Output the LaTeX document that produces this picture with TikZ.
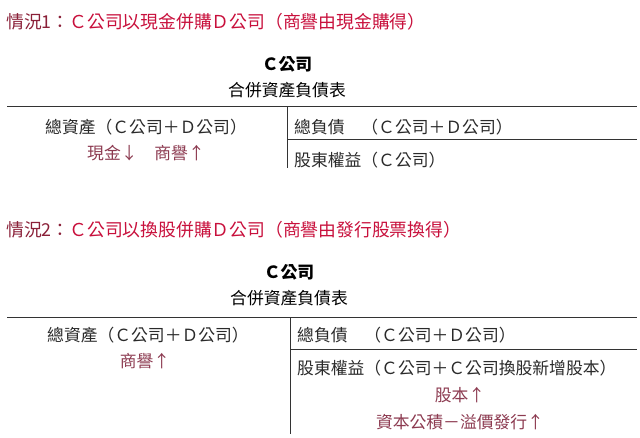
\documentclass[tikz,border=0pt]{standalone}
\usepackage{fontspec}
\setmainfont{Noto Sans CJK TC}
\definecolor{maroon}{HTML}{8A2038}
\definecolor{brightred}{HTML}{C8103C}
\definecolor{note}{HTML}{8C3A50}
\definecolor{txt}{HTML}{2A2A2A}
\begin{document}
\begin{tikzpicture}[x=1pt,y=-1pt,
  txtstyle/.style={font=\fontsize{16.8}{19}\selectfont,text=txt,inner sep=0pt},
  ttl/.style={font=\fontsize{17.8}{20}\selectfont,inner sep=0pt,anchor=west},
  hd/.style={font=\fontsize{16.8}{19}\selectfont,inner sep=0pt,text=black},
  rl/.style={line width=1pt,draw=black!80}]
\useasboundingbox (0,0) rectangle (640,438);
% section 1
\node[ttl] (t1) at (6,22) {\textcolor{maroon}{情況1：}\textcolor{brightred}{Ｃ公司以現金併購Ｄ公司（商譽由現金購得）}};
\node[hd,font=\fontsize{16.8}{19}\selectfont\bfseries] (c1) at (287,64) {Ｃ公司};
\node[hd] (b1) at (287,90) {合併資產負債表};
\coordinate (h1a) at (7,107); \coordinate (h1b) at (637,107);
\coordinate (v1a) at (287,107); \coordinate (v1b) at (287,168);
\coordinate (r1a) at (287,140); \coordinate (r1b) at (637,140);
\draw[rl] (h1a) -- (h1b); \draw[rl] (v1a) -- (v1b); \draw[rl] (r1a) -- (r1b);
\node[txtstyle] (a1) at (146,127) {總資產（Ｃ公司＋Ｄ公司）};
\node[txtstyle,text=note] (g1) at (146,153) {現金↓\quad 商譽↑};
\node[txtstyle,anchor=west] (l1) at (294,127) {總負債\quad（Ｃ公司＋Ｄ公司）};
\node[txtstyle,anchor=west] (e1) at (294,160) {股東權益（Ｃ公司）};
% section 2
\node[ttl] (t2) at (6,230) {\textcolor{maroon}{情況2：}\textcolor{brightred}{Ｃ公司以換股併購Ｄ公司（商譽由發行股票換得）}};
\node[hd,font=\fontsize{16.8}{19}\selectfont\bfseries] (c2) at (289,272) {Ｃ公司};
\node[hd] (b2) at (289,298) {合併資產負債表};
\coordinate (h2a) at (7,318); \coordinate (h2b) at (637,318);
\coordinate (v2a) at (290,318); \coordinate (v2b) at (290,434);
\coordinate (r2a) at (290,350); \coordinate (r2b) at (637,350);
\draw[rl] (h2a) -- (h2b); \draw[rl] (v2a) -- (v2b); \draw[rl] (r2a) -- (r2b);
\node[txtstyle] (a2) at (148,335) {總資產（Ｃ公司＋Ｄ公司）};
\node[txtstyle,text=note] (g2) at (145,361) {商譽↑};
\node[txtstyle,anchor=west] (l2) at (297,335) {總負債\quad（Ｃ公司＋Ｄ公司）};
\node[txtstyle,anchor=west] (e2) at (297,368) {股東權益（Ｃ公司＋Ｃ公司換股新增股本）};
\node[txtstyle,text=note] (s2) at (460,395) {股本↑};
\node[txtstyle,text=note] (p2) at (460,422) {資本公積－溢價發行↑};
\end{tikzpicture}
\end{document}
